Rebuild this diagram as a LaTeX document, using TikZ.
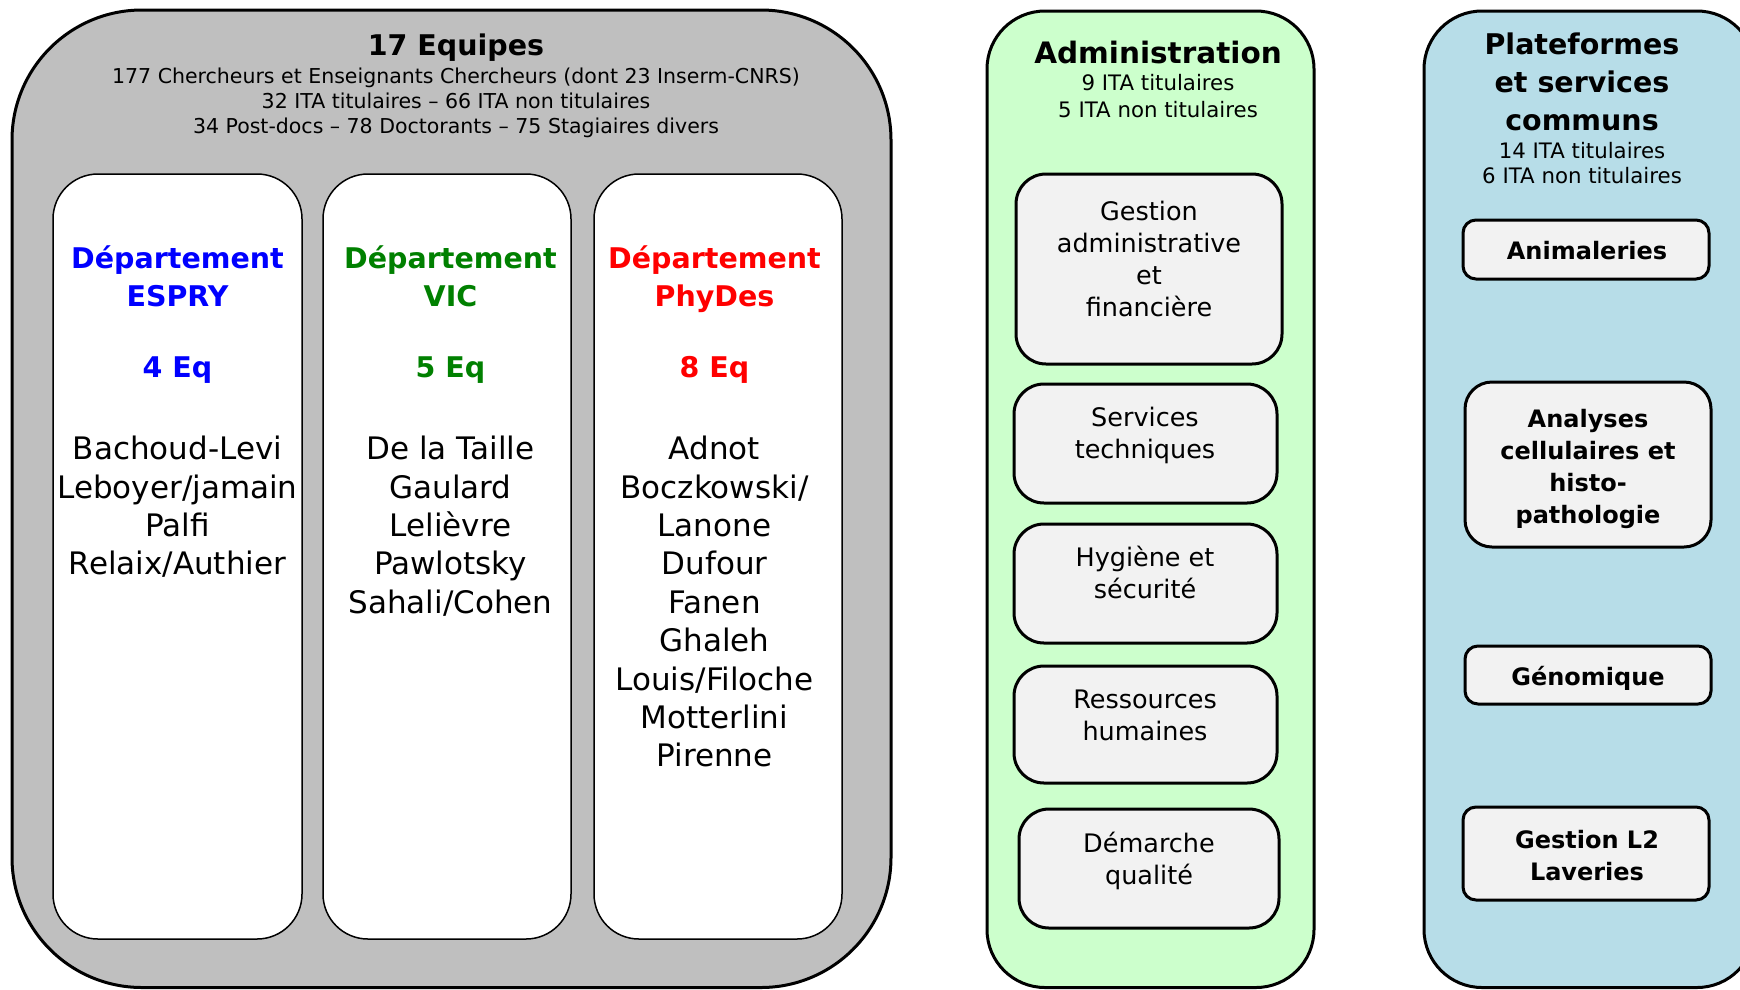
\documentclass[tikz,border=0pt]{standalone}
\usepackage{fontspec}
\setmainfont{DejaVu Sans}
\definecolor{equipesgrey}{HTML}{BFBFBF}
\definecolor{admingreen}{HTML}{CCFFCC}
\definecolor{platblue}{HTML}{B7DDE8}
\definecolor{itemgrey}{HTML}{F2F2F2}
\definecolor{vicgreen}{HTML}{008000}
\begin{document}
\begin{tikzpicture}[x=1pt, y=-1pt,
    bigbox/.style={draw, line width=3pt, rounded corners=#1},
    colbox/.style={draw, fill=white, line width=1.5pt, rounded corners=45},
    itembox/.style={draw, fill=itemgrey, line width=3pt, rounded corners=#1},
    bigtitle/.style={font=\bfseries\fontsize{28.5}{38}\selectfont, align=center, inner sep=0pt},
    smalltxt/.style={font=\fontsize{21.3}{25}\selectfont, align=center, inner sep=0pt},
    nametxt/.style={font=\fontsize{31}{38.4}\selectfont, align=center, inner sep=0pt, anchor=north},
    itemtxt/.style={font=\fontsize{25.5}{32}\selectfont, align=center, inner sep=0pt},
    bitemtxt/.style={font=\bfseries\fontsize{24}{32}\selectfont, align=center, inner sep=0pt}]
  \useasboundingbox (0, 0) rectangle (1740, 989);
  % equipes
  \draw[bigbox=130, fill=equipesgrey] (12, 10) rectangle (891, 987.5);
  \node[bigtitle] (eqtitle) at (456, 47.5) {17 Equipes};
  \node[smalltxt, font=\fontsize{20.5}{25}\selectfont] (eqstaff) at (456, 103) {177 Chercheurs et Enseignants Chercheurs (dont 23 Inserm-CNRS)\\
    32 ITA titulaires -- 66 ITA non titulaires\\34 Post-docs -- 78 Doctorants -- 75 Stagiaires divers};
  \draw[colbox] (53, 174) rectangle (302, 939);
  \draw[colbox] (323, 174) rectangle (571, 939);
  \draw[colbox] (594, 174) rectangle (842, 939);
  \node[bigtitle, blue, anchor=north] (esprytitle) at (177.5, 245) {Département\\ESPRY};
  \node[bigtitle, blue] (espryeq) at (177.5, 370) {4 Eq};
  \node[nametxt] (espry) at (177.5, 436) {Bachoud-Levi\\Leboyer/jamain\\Palfi\\Relaix/Authier};
  \node[bigtitle, vicgreen, anchor=north] (victitle) at (450.5, 245) {Département\\VIC};
  \node[bigtitle, vicgreen] (viceq) at (450.5, 370) {5 Eq};
  \node[nametxt] (vic) at (450.5, 436) {De la Taille\\Gaulard\\Lelièvre\\Pawlotsky\\Sahali/Cohen};
  \node[bigtitle, red, anchor=north] (phytitle) at (714.5, 245) {Département\\PhyDes};
  \node[bigtitle, red] (phyeq) at (714.5, 370) {8 Eq};
  \node[nametxt] (phy) at (714.5, 436) {Adnot\\Boczkowski/\\Lanone\\Dufour\\Fanen\\Ghaleh\\Louis/Filoche\\Motterlini\\Pirenne};
  % administration
  \draw[bigbox=58, fill=admingreen] (987, 11) rectangle (1314, 987.5);
  \node[bigtitle, font=\bfseries\fontsize{29.5}{38}\selectfont] (admtitle) at (1158, 52) {Administration};
  \node[smalltxt, font=\fontsize{21.3}{27}\selectfont] (admstaff) at (1158, 96.5) {9 ITA titulaires\\5 ITA non titulaires};
  \draw[itembox=30] (1016, 174) rectangle (1282, 364);
  \node[itemtxt] (gestion) at (1149, 259) {Gestion\\administrative\\et\\financière};
  \draw[itembox=30] (1014, 384) rectangle (1277, 503);
  \node[itemtxt] (techn) at (1145, 435.5) {Services\\techniques};
  \draw[itembox=30] (1014, 524) rectangle (1277, 643);
  \node[itemtxt] (hygiene) at (1145, 572) {Hygiène et\\sécurité};
  \draw[itembox=30] (1014, 666) rectangle (1277, 783);
  \node[itemtxt] (rh) at (1145, 715) {Ressources\\humaines};
  \draw[itembox=30] (1019, 809) rectangle (1279, 928);
  \node[itemtxt] (qualite) at (1149, 860.5) {Démarche\\qualité};
  % plateformes
  \draw[bigbox=58, fill=platblue] (1424, 11) rectangle (1755, 987.5);
  \node[bigtitle] (plattitle) at (1582, 82) {Plateformes\\et services\\communs};
  \node[smalltxt] (platstaff) at (1582, 163.5) {14 ITA titulaires\\6 ITA non titulaires};
  \draw[itembox=13] (1463, 220) rectangle (1709, 279);
  \node[bitemtxt] (anim) at (1587, 251) {Animaleries};
  \draw[itembox=27] (1465, 382) rectangle (1711, 547);
  \node[bitemtxt] (histo) at (1588, 468.5) {Analyses\\cellulaires et\\histo-\\pathologie};
  \draw[itembox=13] (1465, 646) rectangle (1711, 704);
  \node[bitemtxt] (genom) at (1588, 678) {Génomique};
  \draw[itembox=13] (1463, 807) rectangle (1709, 900);
  \node[bitemtxt] (laverie) at (1587, 856) {Gestion L2\\Laveries};
\end{tikzpicture}
\end{document}
